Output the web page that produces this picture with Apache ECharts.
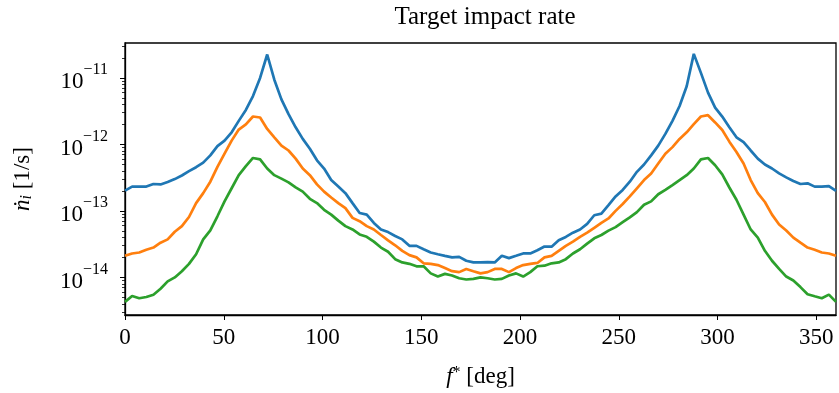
<!DOCTYPE html>
<html>
<head>
<meta charset="utf-8">
<script src="https://cdn.jsdelivr.net/npm/echarts@6/dist/echarts.min.js"></script>
<style>
  html, body { margin: 0; padding: 0; background: #fff; }
  #chart { width: 839px; height: 393px; }
</style>
</head>
<body>
<div id="chart"></div>
<script>
// true anomaly f* [deg]
var angles = [0, 3.6, 7.2, 10.8, 14.4, 18, 21.6, 25.2, 28.8, 32.4, 36, 39.6, 43.2, 46.8, 50.4, 54, 57.6, 61.2, 64.8, 68.4,
  72, 75.6, 79.2, 82.8, 86.4, 90, 93.6, 97.2, 100.8, 104.4, 108, 111.6, 115.2, 118.8, 122.4, 126, 129.6, 133.2, 136.8, 140.4,
  144, 147.6, 151.2, 154.8, 158.4, 162, 165.6, 169.2, 172.8, 176.4, 180, 183.6, 187.2, 190.8, 194.4, 198, 201.6, 205.2, 208.8, 212.4,
  216, 219.6, 223.2, 226.8, 230.4, 234, 237.6, 241.2, 244.8, 248.4, 252, 255.6, 259.2, 262.8, 266.4, 270, 273.6, 277.2, 280.8, 284.4,
  288, 291.6, 295.2, 298.8, 302.4, 306, 309.6, 313.2, 316.8, 320.4, 324, 327.6, 331.2, 334.8, 338.4, 342, 345.6, 349.2, 352.8, 356.4, 360]

// impact rates [1/s]
var rateBlue = [2.02e-13, 2.32e-13, 2.32e-13, 2.32e-13, 2.54e-13, 2.5e-13, 2.72e-13, 3.01e-13, 3.41e-13, 3.96e-13,
  4.54e-13, 5.33e-13, 6.84e-13, 9.44e-13, 1.14e-12, 1.52e-12, 2.26e-12, 3.3e-12, 5.33e-12, 1.0e-11,
  2.25e-11, 9.4e-12, 4.76e-12, 2.85e-12, 1.81e-12, 1.21e-12, 8.6e-13, 5.77e-13, 4.34e-13, 2.91e-13,
  2.32e-13, 1.85e-13, 1.31e-13, 9.3e-14, 8.8e-14, 6.6e-14, 5.26e-14, 4.8e-14, 4.2e-14, 3.73e-14,
  2.98e-14, 2.98e-14, 2.65e-14, 2.37e-14, 2.23e-14, 2.11e-14, 2.0e-14, 2.04e-14, 1.78e-14, 1.68e-14,
  1.68e-14, 1.7e-14, 1.68e-14, 2.11e-14, 1.95e-14, 2.11e-14, 2.29e-14, 2.29e-14, 2.56e-14, 2.91e-14,
  2.9e-14, 3.61e-14, 4.06e-14, 4.7e-14, 5.26e-14, 6.38e-14, 8.6e-14, 9.1e-14, 1.22e-13, 1.65e-13,
  2.07e-13, 2.75e-13, 3.87e-13, 4.98e-13, 6.84e-13, 9.6e-13, 1.44e-12, 2.26e-12, 3.78e-12, 7.5e-12,
  2.3e-11, 1.19e-11, 6.0e-12, 3.58e-12, 2.62e-12, 1.81e-12, 1.28e-12, 1.08e-12, 8.1e-13, 6.11e-13,
  4.98e-13, 4.34e-13, 3.66e-13, 3.19e-13, 2.81e-13, 2.54e-13, 2.6e-13, 2.32e-13, 2.32e-13, 2.36e-13, 2.0e-13]

var rateOrange = [2.11e-14, 2.29e-14, 2.37e-14, 2.6e-14, 2.81e-14, 3.33e-14, 3.73e-14, 4.86e-14, 5.9e-14, 8.1e-14,
  1.31e-13, 1.85e-13, 2.75e-13, 4.6e-13, 7.25e-13, 1.14e-12, 1.67e-12, 2.0e-12, 2.63e-12, 2.54e-12,
  1.71e-12, 1.28e-12, 9.6e-13, 8.1e-13, 6.11e-13, 4.34e-13, 3.45e-13, 2.51e-13, 1.95e-13, 1.59e-13,
  1.31e-13, 1.1e-13, 7.85e-14, 7.0e-14, 5.9e-14, 5.26e-14, 4.34e-14, 3.61e-14, 3.04e-14, 2.51e-14,
  2.16e-14, 2.0e-14, 1.63e-14, 1.6e-14, 1.53e-14, 1.38e-14, 1.24e-14, 1.2e-14, 1.34e-14, 1.24e-14,
  1.15e-14, 1.2e-14, 1.34e-14, 1.34e-14, 1.2e-14, 1.38e-14, 1.53e-14, 1.6e-14, 1.65e-14, 2.0e-14,
  2.11e-14, 2.51e-14, 2.98e-14, 3.45e-14, 4.06e-14, 4.7e-14, 5.57e-14, 6.6e-14, 7.7e-14, 1.0e-13,
  1.27e-13, 1.65e-13, 2.19e-13, 2.91e-13, 3.66e-13, 5.15e-13, 7.25e-13, 9.1e-13, 1.21e-12, 1.52e-12,
  2.02e-12, 2.63e-12, 2.75e-12, 2.14e-12, 1.65e-12, 1.1e-12, 7.7e-13, 5.15e-13, 2.91e-13, 1.85e-13,
  1.36e-13, 8.8e-14, 6.24e-14, 5.08e-14, 3.96e-14, 3.33e-14, 2.81e-14, 2.6e-14, 2.37e-14, 2.29e-14, 2.11e-14]

var rateGreen = [4.28e-15, 5.26e-15, 4.86e-15, 5.08e-15, 5.5e-15, 6.75e-15, 8.7e-15, 1.0e-14, 1.24e-14, 1.6e-14,
  2.23e-14, 3.73e-14, 5.08e-14, 8.3e-14, 1.39e-13, 2.19e-13, 3.45e-13, 4.7e-13, 6.25e-13, 5.97e-13,
  4.34e-13, 3.45e-13, 3.06e-13, 2.69e-13, 2.26e-13, 1.95e-13, 1.52e-13, 1.31e-13, 1.04e-13, 8.8e-14,
  7.15e-14, 5.9e-14, 5.26e-14, 4.43e-14, 4.08e-14, 3.45e-14, 2.81e-14, 2.43e-14, 1.88e-14, 1.68e-14,
  1.6e-14, 1.47e-14, 1.47e-14, 1.15e-14, 1.03e-14, 1.13e-14, 1.07e-14, 9.7e-15, 9.3e-15, 9.5e-15,
  1.0e-14, 9.7e-15, 9.3e-15, 9.5e-15, 1.07e-14, 1.15e-14, 1.03e-14, 1.2e-14, 1.47e-14, 1.5e-14,
  1.63e-14, 1.68e-14, 1.88e-14, 2.29e-14, 2.65e-14, 3.22e-14, 3.87e-14, 4.34e-14, 5.05e-14, 5.7e-14,
  6.76e-14, 8.0e-14, 9.6e-14, 1.24e-13, 1.39e-13, 1.78e-13, 2.07e-13, 2.45e-13, 2.91e-13, 3.45e-13,
  4.34e-13, 5.97e-13, 6.25e-13, 4.86e-13, 3.55e-13, 2.25e-13, 1.47e-13, 8.8e-14, 5.26e-14, 3.96e-14,
  2.51e-14, 1.78e-14, 1.34e-14, 1.03e-14, 9.0e-15, 7.15e-15, 5.57e-15, 5.2e-15, 4.86e-15, 5.5e-15, 4.28e-15]

var xTicks = [0, 50, 100, 150, 200, 250, 300, 350]
var yMajor = [1e-14, 1e-13, 1e-12, 1e-11]
var yMinor = [3e-15, 4e-15, 5e-15, 6e-15, 7e-15, 8e-15, 9e-15,
  2e-14, 3e-14, 4e-14, 5e-14, 6e-14, 7e-14, 8e-14, 9e-14,
  2e-13, 3e-13, 4e-13, 5e-13, 6e-13, 7e-13, 8e-13, 9e-13,
  2e-12, 3e-12, 4e-12, 5e-12, 6e-12, 7e-12, 8e-12, 9e-12,
  2e-11, 3e-11]

var FONT = 'Liberation Serif'
var yMin = 2.72e-15
var yMax = 3.35e-11

function pairs(vals) {
  return angles.map(function(a, i) { return [a, vals[i]] })
}

function lineSeries(name, color, vals) {
  return {
    name: name,
    type: 'line',
    xAxisIndex: 0,
    yAxisIndex: 0,
    showSymbol: false,
    symbol: 'none',
    animation: false,
    lineStyle: { color: color, width: 2.7 },
    data: pairs(vals)
  }
}

var option = {
  backgroundColor: '#fff',
  animation: false,
  title: {
    text: 'Target impact rate',
    left: 480,
    textAlign: 'center',
    top: 0,
    textStyle: { fontFamily: FONT, fontWeight: 'normal', fontSize: 25, color: '#000' }
  },
  grid: {
    left: 125,
    right: 3,
    top: 43,
    bottom: 75,
    show: true,
    borderColor: '#000',
    borderWidth: 1.3,
    backgroundColor: 'transparent'
  },
  xAxis: {
    type: 'value',
    min: 0,
    max: 360,
    name: '{it|f}{sup|*} [deg]',
    nameLocation: 'middle',
    nameGap: 50,
    nameTextStyle: {
      fontFamily: FONT, fontSize: 23, color: '#000',
      rich: {
        it: { fontFamily: FONT, fontSize: 23, fontStyle: 'italic', color: '#000', verticalAlign: 'bottom' },
        sup: { fontFamily: FONT, fontSize: 16, color: '#000', verticalAlign: 'top' }
      }
    },
    axisLine: { show: true, lineStyle: { color: '#000', width: 1.3 } },
    axisTick: { show: true, inside: false, length: 5, lineStyle: { color: '#000', width: 1 }, customValues: xTicks },
    axisLabel: { fontFamily: FONT, fontSize: 23, color: '#000', margin: 11, customValues: xTicks },
    splitLine: { show: false }
  },
  yAxis: [
    {
      type: 'log',
      logBase: 10,
      min: yMin,
      max: yMax,
      name: '{it|ṅ}{sub|i} [1/s]',
      nameLocation: 'middle',
      nameGap: 90,
      nameRotate: 90,
      nameTextStyle: {
        fontFamily: FONT, fontSize: 23, color: '#000',
        rich: {
          it: { fontFamily: FONT, fontSize: 23, fontStyle: 'italic', color: '#000' },
          sub: { fontFamily: FONT, fontSize: 16, fontStyle: 'italic', color: '#000', verticalAlign: 'bottom', padding: [8, 0, 0, 0] }
        }
      },
      axisLine: { show: true, lineStyle: { color: '#000', width: 1.3 } },
      axisTick: { show: true, inside: false, length: 5, lineStyle: { color: '#000', width: 1 }, customValues: yMajor },
      axisLabel: {
        customValues: yMajor,
        margin: 17,
        fontFamily: FONT,
        color: '#000',
        formatter: function(v) {
          var e = Math.round(Math.log10(v))
          return '{b|10}{sup|−' + Math.abs(e) + '}'
        },
        rich: {
          b: { fontFamily: FONT, fontSize: 23, color: '#000', verticalAlign: 'bottom', lineHeight: 32 },
          sup: { fontFamily: FONT, fontSize: 16, color: '#000', verticalAlign: 'top', lineHeight: 32 }
        }
      },
      splitLine: { show: false }
    },
    {
      // minor ticks only
      type: 'log',
      logBase: 10,
      min: yMin,
      max: yMax,
      position: 'left',
      axisLine: { show: false },
      axisTick: { show: true, inside: false, length: 3, lineStyle: { color: '#000', width: 0.8 }, customValues: yMinor },
      axisLabel: { show: false },
      splitLine: { show: false }
    }
  ],
  series: [
    lineSeries('rate 1', '#1f77b4', rateBlue),
    lineSeries('rate 2', '#ff7f0e', rateOrange),
    lineSeries('rate 3', '#2ca02c', rateGreen)
  ]
}

var chart = echarts.init(document.getElementById('chart'), null, { renderer: 'canvas' })
chart.setOption(option)
window.addEventListener('resize', function() {
  chart.resize()
})
</script>
</body>
</html>
